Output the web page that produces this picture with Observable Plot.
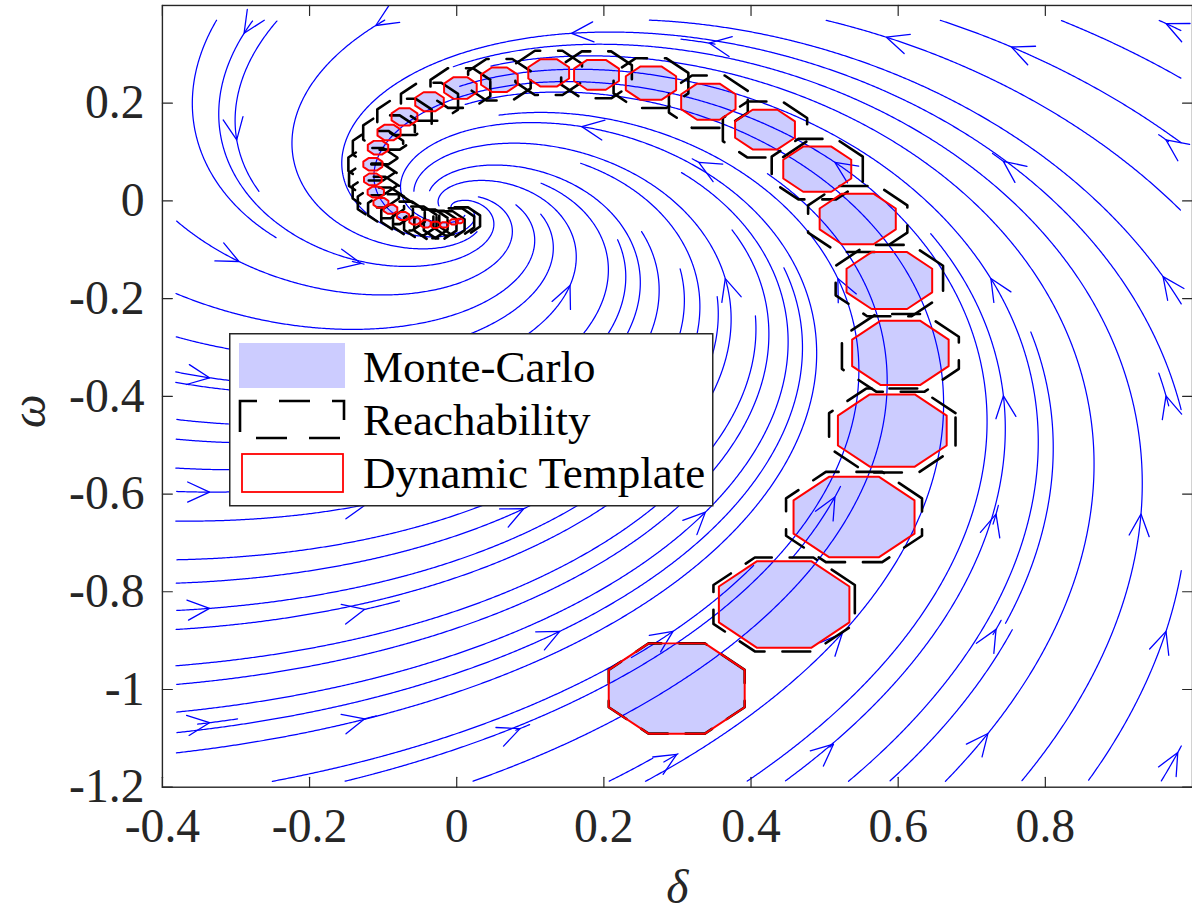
<!DOCTYPE html>
<html><head><meta charset="utf-8">
<script src="https://cdn.jsdelivr.net/npm/d3@7"></script>
<script src="https://cdn.jsdelivr.net/npm/@observablehq/plot@0.6"></script>
<style>
html,body{margin:0;padding:0;overflow:hidden;background:#fff;}
#wrap{position:relative;width:1192px;height:920px;overflow:hidden;}
#legend{position:absolute;left:229px;top:333px;}
</style></head>
<body><div id="wrap"></div>
<script>
// ---------------- data ----------------
const xTicks = [-0.4, -0.2, 0, 0.2, 0.4, 0.6, 0.8];
const yTicks = [-1.2, -1, -0.8, -0.6, -0.4, -0.2, 0, 0.2];

// linear vector field d/dt [δ, ω] = A ([δ, ω] - e), estimated from arrow directions
const fieldMatrix = [[-0.132, -0.219], [0.195, -0.112]];
const equilibrium = [0.0, -0.017];
const fieldDeltaRange = [-0.382, 0.985];
const fieldOmegaRange = [-1.188, 0.37];

// arrowheads (seed points of the stream slices)
const arrowDelta = [-0.289,-0.110,0.156,0.343,0.584,0.754,0.964,
  -0.299,0.170,0.329,0.514,0.743,0.964,
  -0.296,-0.130,0.154,0.365,0.518,0.726,0.960,
  -0.336,0.743,0.964,
  -0.336,-0.124,0.091,0.338,0.514,0.733,0.930,
  -0.336,-0.125,0.140,0.294,0.524,0.733,0.964,
  -0.336,-0.125,0.086,0.299,0.512,0.722,0.980];
const arrowOmega = [0.343,0.359,0.343,0.323,0.335,0.315,0.363,
  0.125,0.152,0.079,0.079,0.081,0.125,
  -0.124,-0.128,-0.173,-0.159,-0.159,-0.159,-0.155,
  -0.362,-0.399,-0.399,
  -0.596,-0.622,-0.630,-0.637,-0.606,-0.641,-0.641,
  -0.834,-0.836,-0.881,-0.881,-0.885,-0.877,-0.881,
  -1.068,-1.060,-1.080,-1.133,-1.112,-1.090,-1.129];

// other stream slice seeds (grid of the slice)
const seedGridDelta = [-0.336,-0.265,-0.195,-0.125,-0.054,0.017,0.088,0.158,0.229,0.299,0.370,0.440,0.511,0.581,0.652,0.722,0.793,0.863,0.934];
const seedGridOmega = [0.343,0.263,0.184,0.104,0.024,-0.056,-0.135,-0.215,-0.295,-0.375,-0.454,-0.534,-0.614,-0.693,-0.773,-0.853,-0.932,-1.012,-1.092,-1.171];

// octagonal sets along the trajectory
const setDelta = [0.299,0.445,0.540,0.592,0.603,0.588,0.545,0.490,0.419,0.342,0.264,0.190,0.125,0.058,0.005,-0.037,-0.071,-0.092,-0.107,-0.114,-0.114,-0.110,-0.103,-0.090,-0.073,-0.057,-0.042,-0.029,-0.017,-0.004,0.004];
const setOmega = [-0.998,-0.826,-0.647,-0.470,-0.311,-0.163,-0.037,0.065,0.146,0.203,0.241,0.258,0.262,0.248,0.231,0.203,0.172,0.140,0.109,0.075,0.044,0.018,-0.004,-0.017,-0.031,-0.041,-0.047,-0.049,-0.049,-0.043,-0.041];
const templateRadius = [0.100,0.096,0.089,0.080,0.071,0.063,0.056,0.050,0.044,0.040,0.037,0.033,0.030,0.027,0.024,0.021,0.019,0.017,0.015,0.014,0.013,0.012,0.011,0.010,0.009,0.008,0.008,0.007,0.006,0.006,0.005];
const reachRadius = [0.100,0.104,0.100,0.093,0.086,0.079,0.073,0.067,0.062,0.058,0.055,0.052,0.049,0.046,0.044,0.042,0.040,0.038,0.037,0.036,0.035,0.034,0.034,0.033,0.032,0.032,0.032,0.031,0.030,0.030,0.030];

const legendLabels = ["Monte-Carlo", "Reachability", "Dynamic Template"];
const axisLabels = {x: "δ", y: "ω"};

// ---------------- layout ----------------
const W = 1200, H = 920, ML = 163, MR = 0, MT = 5, MB = 128;
const xDomain = [-0.4, 1.0], yDomain = [-1.2, 0.4];
const FONT = '"Liberation Serif", "Times New Roman", Times, serif';
const sx = d3.scaleLinear(xDomain, [ML, W - MR]);
const sy = d3.scaleLinear(yDomain, [H - MB, MT]);

// ---------------- stream slices ----------------
function field(d, w) {
  const a = fieldMatrix, dd = d - equilibrium[0], ww = w - equilibrium[1];
  return [a[0][0] * dd + a[0][1] * ww, a[1][0] * dd + a[1][1] * ww];
}
const kx = sx(1) - sx(0), ky = sy(0) - sy(1);
const ex = sx(equilibrium[0]), ey = sy(equilibrium[1]);
function dirPx(px, py) {
  if (Math.hypot(px - ex, py - ey) < 2) return null;
  const v = field(sx.invert(px), sy.invert(py));
  const vx = v[0] * kx, vy = -v[1] * ky, n = Math.hypot(vx, vy);
  if (n < 1e-12) return null;
  return [vx / n, vy / n];
}
const gx0 = sx(fieldDeltaRange[0]), gx1 = sx(fieldDeltaRange[1]);
const gy0 = sy(fieldOmegaRange[1]), gy1 = sy(fieldOmegaRange[0]);
const NE = 80, NS = 20;
const endGrid = new Int32Array(NE * NE).fill(-1);
const startGrid = new Uint8Array(NS * NS);
function cell(px, py, n) {
  const i = Math.floor((px - gx0) / ((gx1 - gx0) / n));
  const j = Math.floor((py - gy0) / ((gy1 - gy0) / n));
  if (i < 0 || j < 0 || i >= n || j >= n) return -1;
  return j * n + i;
}
const h = 1.5;
function trace(px, py, dir, id) {
  const pts = [];
  let x = px, y = py, c = cell(x, y, NE);
  for (let s = 0; s < 4000; s++) {
    const v1 = dirPx(x, y); if (!v1) break;
    const v2 = dirPx(x + dir * v1[0] * h / 2, y + dir * v1[1] * h / 2); if (!v2) break;
    const nx = x + dir * v2[0] * h, ny = y + dir * v2[1] * h;
    const nc = cell(nx, ny, NE);
    if (nc < 0) break;
    if (nc !== c) { if (endGrid[nc] !== -1) break; endGrid[nc] = id; c = nc; }
    x = nx; y = ny; pts.push([x, y]);
    const sc = cell(x, y, NS); if (sc >= 0) startGrid[sc] = 1;
  }
  return pts;
}
const streamRows = [];
let lineId = 0;
function slice(d, w, force) {
  const px = sx(d), py = sy(w);
  const ce = cell(px, py, NE), cs = cell(px, py, NS);
  if (ce < 0) return;
  if (!force && (endGrid[ce] !== -1 || startGrid[cs])) return;
  const id = lineId++;
  endGrid[ce] = id; startGrid[cs] = 1;
  const back = trace(px, py, -1, id).reverse();
  const fwd = trace(px, py, 1, id);
  const pts = back.concat([[px, py]], fwd);
  if (pts.length < 3) return;
  for (const p of pts) streamRows.push({id, d: sx.invert(p[0]), w: sy.invert(p[1])});
}
arrowDelta.forEach((d, i) => slice(d, arrowOmega[i], true));
for (const w of seedGridOmega) for (const d of seedGridDelta) slice(d, w, false);

const arrowRows = arrowDelta.map((d, i) => {
  const dp = dirPx(sx(d), sy(arrowOmega[i]));
  return {d, w: arrowOmega[i], angle: Math.atan2(dp[0], -dp[1]) * 180 / Math.PI};
});

// ---------------- octagons ----------------
function octagons(radii) {
  const rows = [];
  setDelta.forEach((cd, k) => {
    for (let j = 0; j < 8; j++) {
      const a = (22.5 + 45 * j) * Math.PI / 180;
      rows.push({k, d: cd + radii[k] * Math.cos(a), w: setOmega[k] + radii[k] * Math.sin(a)});
    }
  });
  return rows;
}
const templateRows = octagons(templateRadius);
const reachRows = octagons(reachRadius);

const arrowShape = {draw(ctx, l) { const wng = l * 0.46; ctx.moveTo(-wng, l); ctx.lineTo(0, 0); ctx.lineTo(wng, l); }};
const spike = {draw(ctx, l) { ctx.moveTo(0, 0); ctx.lineTo(0, -l); }};
const fmt = d => String(Math.round(d * 10) / 10);
const tickStyle = {length: 10, anchor: "start", shape: spike, stroke: "#262626", strokeWidth: 1.2};

const chart = Plot.plot({
  width: W, height: H, marginLeft: ML, marginRight: MR, marginTop: MT, marginBottom: MB,
  x: {domain: xDomain}, y: {domain: yDomain},
  style: {fontFamily: FONT, background: "white", color: "#262626", overflow: "visible"},
  marks: [
    Plot.line(streamRows, {x: "d", y: "w", z: "id", stroke: "#0000ff", strokeWidth: 1.25, clip: true}),
    Plot.vector(arrowRows, {x: "d", y: "w", rotate: "angle", length: 22, anchor: "start", shape: arrowShape, stroke: "#0000ff", strokeWidth: 1.3, clip: true}),
    Plot.line(templateRows, {x: "d", y: "w", z: "k", fill: "#0000ff", fillOpacity: 0.2, stroke: "none", curve: "linear-closed"}),
    Plot.line(reachRows, {x: "d", y: "w", z: "k", fill: "none", stroke: "black", strokeWidth: 2.6, strokeDasharray: "28,18", curve: "linear-closed"}),
    Plot.line(templateRows, {x: "d", y: "w", z: "k", fill: "none", stroke: "#ff0000", strokeWidth: 2, curve: "linear-closed"}),
    Plot.frame({stroke: "#262626", strokeWidth: 1.4}),
    Plot.vector(xTicks, {x: d => d, frameAnchor: "bottom", rotate: 0, ...tickStyle}),
    Plot.vector(xTicks, {x: d => d, frameAnchor: "top", rotate: 180, ...tickStyle}),
    Plot.vector(yTicks, {y: d => d, frameAnchor: "left", rotate: 90, ...tickStyle}),
    Plot.vector(yTicks, {y: d => d, frameAnchor: "right", rotate: 270, ...tickStyle}),
    Plot.axisX({ticks: xTicks, tickSize: 0, tickPadding: 21, fontSize: 48, tickFormat: fmt, label: null}),
    Plot.axisY({ticks: yTicks, tickSize: 0, tickPadding: 18, fontSize: 48, tickFormat: fmt, label: null}),
    Plot.text([axisLabels.x], {text: d => d, frameAnchor: "bottom", dy: 117, fontSize: 48, fontStyle: "italic", fill: "#262626"}),
    Plot.text([axisLabels.y], {text: d => d, frameAnchor: "left", dx: -134, dy: 32, rotate: -90, fontSize: 48, fontStyle: "italic", fill: "#262626"})
  ]
});
const wrap = document.getElementById("wrap");
wrap.appendChild(chart);

// ---------------- legend ----------------
const LW = 483, LH = 172;
const lg = d3.create("svg").attr("id", "legend").attr("width", LW + 2).attr("height", LH + 2)
  .style("font-family", FONT);
lg.append("rect").attr("x", 0.75).attr("y", 0.75).attr("width", LW).attr("height", LH)
  .attr("fill", "white").attr("stroke", "#262626").attr("stroke-width", 1.5);
lg.append("rect").attr("x", 10).attr("y", 10).attr("width", 106).attr("height", 45).attr("fill", "#ccccff");
lg.append("rect").attr("x", 11).attr("y", 68).attr("width", 104).attr("height", 37).attr("fill", "none")
  .attr("stroke", "black").attr("stroke-width", 2.6).attr("stroke-dasharray", "31,22").attr("stroke-dashoffset", 14);
lg.append("rect").attr("x", 13).attr("y", 121).attr("width", 101).attr("height", 38).attr("fill", "none")
  .attr("stroke", "#ff0000").attr("stroke-width", 1.8);
[49, 102, 155].forEach((b, i) => {
  lg.append("text").attr("x", 134).attr("y", b).attr("font-size", 45).attr("fill", "black").text(legendLabels[i]);
});
wrap.appendChild(lg.node());
</script>
</body></html>
